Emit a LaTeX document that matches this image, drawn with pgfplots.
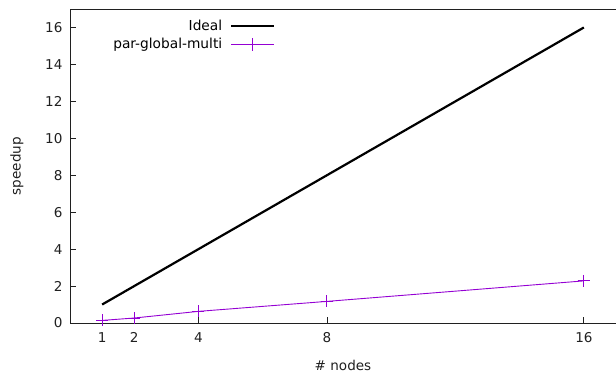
\documentclass[border=0pt]{standalone}
\usepackage{pgfplots}
\pgfplotsset{compat=1.18}
\usepackage{fontspec}
\setmainfont{DejaVu Sans}
\definecolor{gpviolet}{HTML}{9400D3}
\definecolor{axgray}{HTML}{202020}
\begin{document}
\begin{tikzpicture}[x=1bp,y=1bp]
\begin{axis}[
  at={(70bp,52bp)}, anchor=south west,
  scale only axis, width=546bp, height=314bp,
  xmin=0, xmax=17, ymin=0, ymax=17,
  axis x line=box, axis y line=left,
  axis line style={axgray, line width=0.9bp, -},
  xtick={1,2,4,8,16}, ytick={0,2,...,16},
  tick pos=left, tick align=inside,
  major tick length=6bp,
  tick style={axgray, line width=0.8bp},
  ticklabel style={font=\fontsize{13.6}{15}\selectfont, text=axgray},
  xticklabel style={yshift=-6bp},
  yticklabel style={xshift=-4bp},
  /pgf/number format/assume math mode=true,
  xlabel={\# nodes}, ylabel={speedup},
  label style={font=\fontsize{13.6}{15}\selectfont, text=axgray},
  xlabel style={at={(axis description cs:0.5,0)}, anchor=center, yshift=-42bp},
  ylabel style={at={(axis description cs:0,0.5)}, anchor=center, rotate=0, yshift=53bp},
  legend style={draw=none, fill=none, at={(axis description cs:0.382,0.978)}, anchor=north east,
    font=\fontsize{13.8}{15}\selectfont, row sep=2.5bp,
    /tikz/every odd column/.append style={column sep=6bp}},
  legend cell align=right, legend plot pos=right,
  clip=false,
]
\addplot[black, line width=2.2bp,
  legend image code/.code={\draw[black, line width=2.2bp] (0bp,0bp) -- (43bp,0bp);}] coordinates {(1,1) (16,16)};
\addlegendentry{Ideal}
\addplot[gpviolet, line width=0.9bp, mark=+, mark size=6bp, mark options={line width=0.9bp},
  legend image code/.code={\draw[gpviolet, line width=0.9bp] (0bp,0bp) -- (43bp,0bp);
    \draw[gpviolet, line width=0.9bp] (21.5bp,-6.5bp) -- (21.5bp,6.5bp);}] coordinates {
(1,0.14) (2,0.27) (4,0.63) (8,1.17) (16,2.28)};
\addlegendentry{par-global-multi}
\end{axis}
\pgfresetboundingbox
\useasboundingbox (0,0) rectangle (616bp,375bp);
\end{tikzpicture}
\end{document}
